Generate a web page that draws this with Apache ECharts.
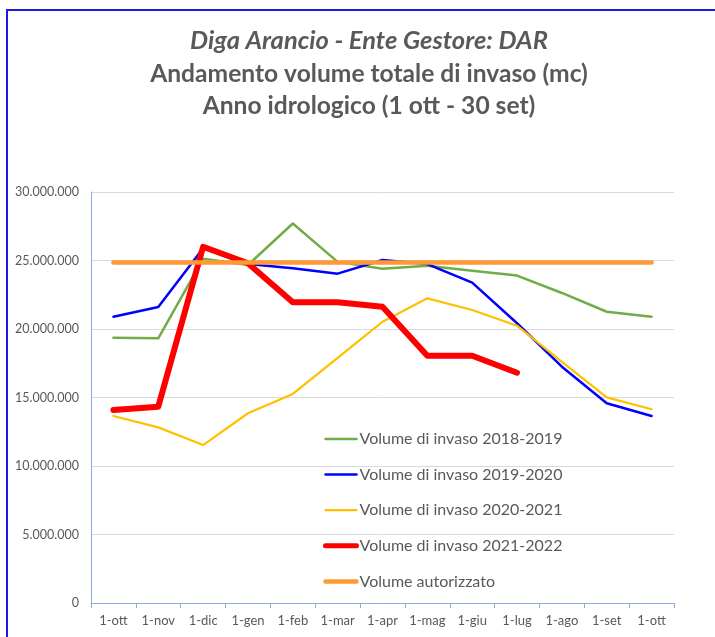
<!DOCTYPE html>
<html>
<head>
<meta charset="utf-8">
<script src="https://cdn.jsdelivr.net/npm/echarts@6/dist/echarts.min.js"></script>
<style>
  html, body { margin: 0; padding: 0; background: #fff; }
  #chart { width: 715px; height: 637px; }
</style>
</head>
<body>
<div id="chart"></div>
<script>
const months = ["1-ott", "1-nov", "1-dic", "1-gen", "1-feb", "1-mar", "1-apr", "1-mag", "1-giu", "1-lug", "1-ago", "1-set", "1-ott"];

const vol2018 = [19370000, 19320000, 25130000, 24670000, 27700000, 24900000, 24400000, 24620000, 24260000, 23900000, 22630000, 21260000, 20900000];
const vol2019 = [20900000, 21600000, 25890000, 24750000, 24430000, 24040000, 25040000, 24740000, 23380000, 20420000, 17250000, 14580000, 13650000];
const vol2020 = [13650000, 12820000, 11530000, 13850000, 15260000, 17900000, 20530000, 22240000, 21390000, 20240000, 17600000, 15010000, 14140000];
const vol2021 = [14090000, 14330000, 26000000, 24800000, 21950000, 21950000, 21630000, 18050000, 18050000, 16810000, null, null, null];
const volAutorizzato = [24850000, 24850000, 24850000, 24850000, 24850000, 24850000, 24850000, 24850000, 24850000, 24850000, 24850000, 24850000, 24850000];

const yTicks = { min: 0, max: 30000000, interval: 5000000 };

const grey = "#595959";
const font = "Lato";

const fmt = (v) => String(v).replace(/\B(?=(\d{3})+(?!\d))/g, ".");

const styles = [
  { name: "Volume di invaso 2018-2019", data: vol2018, color: "#70ad47", width: 2.5 },
  { name: "Volume di invaso 2019-2020", data: vol2019, color: "#0000ff", width: 2.5 },
  { name: "Volume di invaso 2020-2021", data: vol2020, color: "#ffc000", width: 2.2 },
  { name: "Volume di invaso 2021-2022", data: vol2021, color: "#ff0000", width: 6 },
  { name: "Volume autorizzato", data: volAutorizzato, color: "#ff9933", width: 4.5 },
];

const chart = echarts.init(document.getElementById("chart"));

chart.setOption({
  animation: false,
  backgroundColor: "#fff",
  graphic: [
    {
      type: "rect",
      silent: true,
      shape: { x: 7, y: 10, width: 760, height: 680 },
      style: { fill: "none", stroke: "#1a1ae6", lineWidth: 2 },
    },
  ],
  title: {
    left: 364,
    top: 20,
    textAlign: "center",
    text: "{a|Diga Arancio - Ente Gestore: DAR}\n{b|Andamento volume totale di invaso (mc)}\n{b|Anno idrologico (1 ott - 30 set)}",
    textStyle: {
      rich: {
        a: { fontFamily: font, fontSize: 25.5, fontStyle: "italic", fontWeight: "bold", color: grey, lineHeight: 32.5 },
        b: { fontFamily: font, fontSize: 24.6, fontWeight: "bold", color: grey, lineHeight: 32.5 },
      },
    },
  },
  legend: {
    orient: "vertical",
    left: 318,
    top: 426,
    itemWidth: 31,
    itemHeight: 14,
    itemGap: 19.6,
    itemStyle: { opacity: 0 },
    textStyle: { fontFamily: font, fontSize: 16, color: grey, padding: [0, 0, 0, -2] },
    data: styles.map((s) => ({
      name: s.name,
      lineStyle: { width: Math.min(s.width, 5), color: s.color, cap: "round" },
    })),
  },
  grid: { left: 91, right: 41, top: 192, bottom: 34 },
  xAxis: {
    type: "category",
    data: months,
    boundaryGap: true,
    axisLine: { lineStyle: { color: "#8faadc", width: 1 } },
    axisTick: { show: true, interval: 0, length: 5, lineStyle: { color: "#8faadc" } },
    axisLabel: { interval: 0, fontFamily: font, fontSize: 13, color: grey, margin: 11 },
    splitLine: { show: false },
  },
  yAxis: {
    type: "value",
    min: yTicks.min,
    max: yTicks.max,
    interval: yTicks.interval,
    axisLine: { show: true, lineStyle: { color: "#8faadc", width: 1 } },
    axisTick: { show: false },
    axisLabel: { fontFamily: font, fontSize: 12.5, color: grey, margin: 12, formatter: fmt },
    splitLine: { lineStyle: { color: "#d9d9d9", width: 1 } },
  },
  series: styles.map((s) => ({
    name: s.name,
    type: "line",
    data: s.data,
    symbol: "none",
    showSymbol: false,
    color: s.color,
    lineStyle: { color: s.color, width: s.width, cap: "round", join: "round" },
    emphasis: { disabled: true },
  })),
});
</script>
</body>
</html>
